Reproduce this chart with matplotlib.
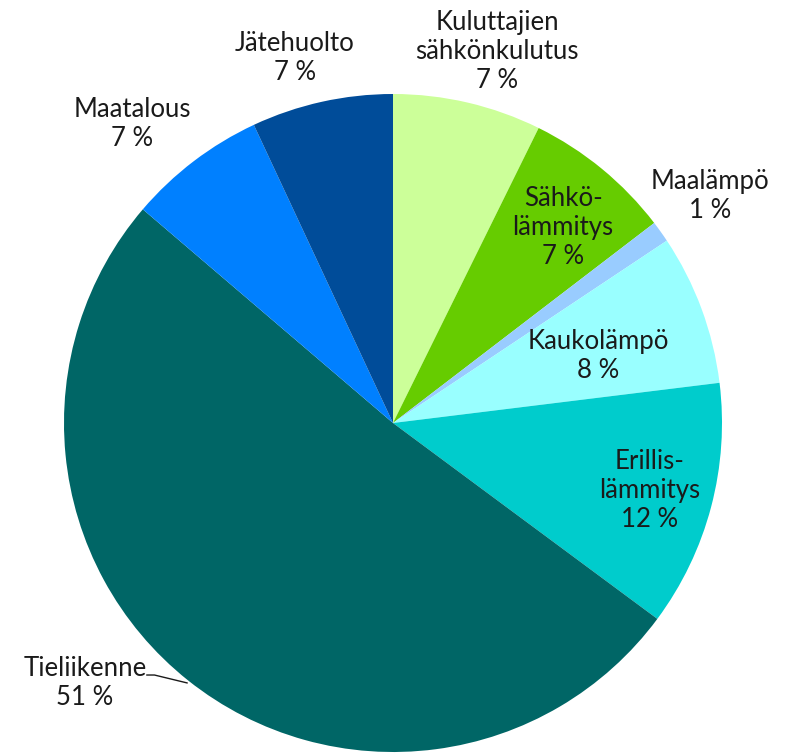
import matplotlib.pyplot as plt

labels = ['Kuluttajien\nsähkönkulutus', 'Sähkö-\nlämmitys', 'Maalämpö', 'Kaukolämpö',
          'Erillis-\nlämmitys', 'Tieliikenne', 'Maatalous', 'Jätehuolto']
values = [7.3, 7.3, 1.05, 7.4, 12.1, 51.1, 6.8, 6.95]
pct_text = ['7 %', '7 %', '1 %', '8 %', '12 %', '51 %', '7 %', '7 %']
colors = ['#ccff99', '#66cc00', '#99ccff', '#99ffff', '#00cccc', '#006666', '#0080ff', '#004c99']

# label positions (data coords, pie radius = 1)
label_pos = [(0.316, 1.128), (0.517, 0.593), (0.964, 0.690), (0.623, 0.204),
             (0.781, -0.204), (-0.936, -0.790), (-0.793, 0.909), (-0.298, 1.109)]

fig = plt.figure(figsize=(7.98, 7.53), dpi=100)
ax = fig.add_axes([0, 0, 1, 1])
ax.pie(values, colors=colors, startangle=90, counterclock=False,
       wedgeprops=dict(linewidth=0))
ax.set_xlim(-1.1945, 1.231)
ax.set_ylim(-1.003, 1.2857)
ax.set_aspect('equal')
ax.axis('off')

for lab, pct, (x, y) in zip(labels, pct_text, label_pos):
    ax.text(x, y, lab + '\n' + pct, ha='center', va='center', fontsize=18.5,
            family=['Lato', 'DejaVu Sans'], weight='normal', color='#1a1a1a',
            linespacing=1.2)

# leader line for Tieliikenne
ax.plot([-0.748, -0.725, -0.626], [-0.766, -0.766, -0.790], color='#1a1a1a', lw=1)

fig.savefig('out.png', dpi=100)
